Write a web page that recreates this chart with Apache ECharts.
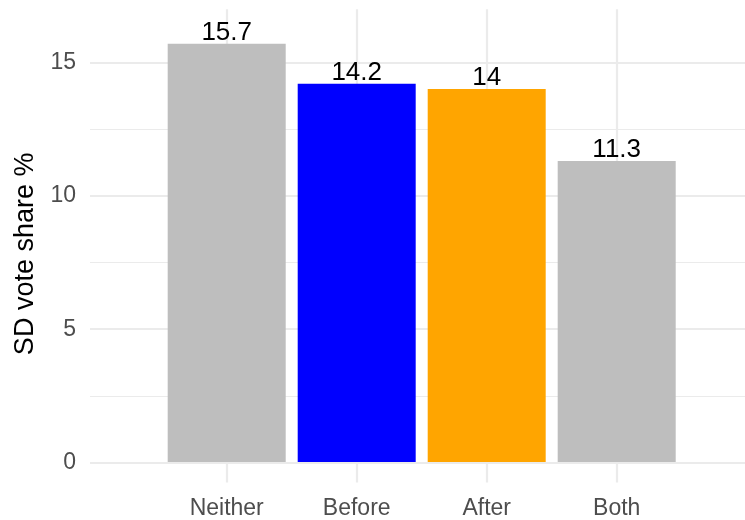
<!DOCTYPE html>
<html>
<head>
<meta charset="utf-8">
<script src="https://cdn.jsdelivr.net/npm/echarts@6/dist/echarts.min.js"></script>
<style>
  html, body { margin: 0; padding: 0; background: #ffffff; }
  #chart { width: 745px; height: 520px; }
</style>
</head>
<body>
<div id="chart"></div>
<script>
const categories = ['Neither', 'Before', 'After', 'Both'];
const voteShare = [15.7, 14.2, 14, 11.3];
const yMin = 0;
const yMax = 17;
const yTickStep = 5;
const yTitle = 'SD vote share %';

const barColors = ['#BEBEBE', '#0000FF', '#FFA500', '#BEBEBE'];
const FONT = 'Liberation Sans, Arial, Helvetica, sans-serif';
const GRID_COL = '#EBEBEB';

const chart = echarts.init(document.getElementById('chart'), null, { renderer: 'canvas' });

const plotTop = 9.17, plotBottom = 57.5;

const option = {
  animation: false,
  backgroundColor: '#ffffff',
  grid: [
    { left: 90, right: 0, top: plotTop, bottom: plotBottom },
    { left: 226.7, right: 128.3, top: plotTop, bottom: plotBottom }
  ],
  xAxis: [
    { gridIndex: 0, type: 'value', min: 0, max: 1, show: false },
    {
      gridIndex: 1,
      type: 'category',
      data: categories,
      boundaryGap: false,
      axisLine: { show: false },
      axisTick: { show: true, length: 20.5, lineStyle: { color: GRID_COL, width: 2.2 } },
      splitLine: { show: true, lineStyle: { color: GRID_COL, width: 2.2 } },
      axisLabel: { color: '#4D4D4D', fontSize: 23, fontFamily: FONT, margin: 35 }
    }
  ],
  yAxis: [
    {
      gridIndex: 0,
      type: 'value',
      min: yMin,
      max: yMax,
      interval: yTickStep,
      name: yTitle,
      nameLocation: 'middle',
      nameRotate: 90,
      nameGap: 48,
      nameTextStyle: { color: '#000000', fontSize: 27, fontFamily: FONT, padding: [0, 36, 0, 0] },
      axisLine: { show: false },
      axisTick: { show: false },
      axisLabel: { color: '#4D4D4D', fontSize: 23, fontFamily: FONT, margin: 14, showMaxLabel: false },
      splitLine: { show: true, lineStyle: { color: [GRID_COL, GRID_COL, GRID_COL, GRID_COL, 'rgba(0,0,0,0)'], width: 2.2 } },
      minorTick: { show: false, splitNumber: 2 },
      minorSplitLine: { show: true, lineStyle: { color: GRID_COL, width: 1.1 } }
    },
    { gridIndex: 1, type: 'value', min: yMin, max: yMax, show: false }
  ],
  series: [
    {
      type: 'bar',
      xAxisIndex: 1,
      yAxisIndex: 1,
      barWidth: 118,
      clip: false,
      data: voteShare.map((v, i) => ({ value: v, itemStyle: { color: barColors[i] } })),
      label: {
        show: true,
        position: 'top',
        distance: -2,
        color: '#000000',
        fontSize: 26,
        fontFamily: FONT,
        formatter: (p) => String(p.value)
      }
    }
  ]
};

chart.setOption(option);
</script>
</body>
</html>
